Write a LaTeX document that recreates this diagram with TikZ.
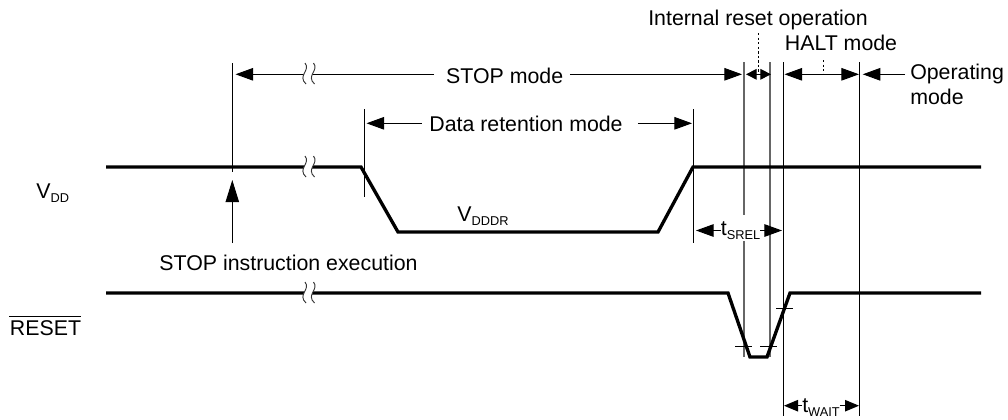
\documentclass[tikz,border=0pt]{standalone}
\usepackage{fontspec}
\setmainfont{Liberation Sans}
\usetikzlibrary{arrows.meta}
\newcommand{\subtxt}[1]{\raisebox{-0.2em}{\fontsize{9.6pt}{10pt}\selectfont #1}}
\tikzset{
  x=0.75pt,y=-0.75pt,
  lbl/.style={inner sep=0pt,font=\fontsize{16pt}{18pt}\selectfont},
  wave/.style={line width=2.5pt,line join=miter},
  guide/.style={line width=0.75pt,black},
  guidegray/.style={line width=1.05pt,black!60},
  dim/.style={line width=0.75pt,-{Triangle[length=13.2pt,width=9.4pt]}},
  dimup/.style={line width=0.75pt,-{Triangle[length=16.5pt,width=10pt]}},
  dimmid/.style={line width=0.75pt,-{Triangle[length=10.5pt,width=8.6pt]}},
  dimsmall/.style={line width=0.75pt,-{Triangle[length=8pt,width=8pt]}},
  tick/.style={line width=0.6pt},
  leader/.style={line width=0.7pt,dash pattern=on 1.8pt off 1.6pt},
  brk/.style={line width=0.7pt,black!80},
}
% break mark centred on (#1,#2)
\newcommand{\breakmark}[2]{%
  \fill[white] (#1-4,#2-10.5) .. controls (#1+2,#2-3) and (#1-12,#2+2) .. (#1-3,#2+10.5) -- (#1+5.5,#2+10.5) .. controls (#1-3.5,#2+2) and (#1+10.5,#2-3) .. (#1+4.5,#2-10.5) -- cycle;
  \draw[brk] (#1-4,#2-10.5) .. controls (#1+2,#2-3) and (#1-12,#2+2) .. (#1-3,#2+10.5);
  \draw[brk] (#1+4.5,#2-10.5) .. controls (#1+10.5,#2-3) and (#1-3.5,#2+2) .. (#1+5.5,#2+10.5);
}
\begin{document}
\begin{tikzpicture}
\useasboundingbox (0,0) rectangle (1008,419);
% guide line ends
\coordinate (g1t) at (232.3,63);  \coordinate (g1b) at (232.3,172);
\coordinate (g2t) at (364.3,109); \coordinate (g2b) at (364.3,197);
\coordinate (g3t) at (693.3,109); \coordinate (g3b) at (693.3,243);
\coordinate (g4t) at (743.8,62);  \coordinate (g4m) at (743.8,215); \coordinate (g4n) at (743.8,241); \coordinate (g4b) at (743.8,357);
\coordinate (g5t) at (770,62);    \coordinate (g5b) at (770,357);
\coordinate (g6t) at (783.5,62);  \coordinate (g6b) at (783.5,416);
\coordinate (g7t) at (859.5,62);  \coordinate (g7b) at (859.5,416);
\draw[guide] (g1t)--(g1b);
\draw[guide] (g2t)--(g2b);
\draw[guide] (g3t)--(g3b);
\draw[guidegray] (g4t)--(g4m);
\draw[guidegray] (g4n)--(g4b);
\draw[guidegray] (g5t)--(g5b);
\draw[guide] (g6t)--(g6b);
\draw[guide] (g7t)--(g7b);
% waveforms
\coordinate (v0) at (106,167); \coordinate (v1) at (361,167); \coordinate (v2) at (398,232);
\coordinate (v3) at (658,232); \coordinate (v4) at (693,167); \coordinate (v5) at (981,167);
\draw[wave] (v0)--(v1)--(v2)--(v3)--(v4)--(v5);
\coordinate (r0) at (106,293); \coordinate (r1) at (728,293); \coordinate (r2) at (750,357);
\coordinate (r3) at (767,357); \coordinate (r4) at (790,293); \coordinate (r5) at (981,293);
\draw[wave] (r0)--(r1)--(r2)--(r3)--(r4)--(r5);
% threshold ticks
\coordinate (t1a) at (735,346); \coordinate (t1b) at (752,346);
\coordinate (t2a) at (760,346); \coordinate (t2b) at (777,346);
\coordinate (t3a) at (776,308); \coordinate (t3b) at (793,308);
\draw[tick] (t1a)--(t1b);
\draw[tick] (t2a)--(t2b);
\draw[tick] (t3a)--(t3b);
% labels
\node[lbl,anchor=base] (stop) at (504.7,83) {STOP mode};
\node[lbl,anchor=base] (data) at (526,131.7) {Data retention mode};
\node[lbl,anchor=base] (inst) at (758,25) {Internal reset operation};
\node[lbl,anchor=base] (halt) at (841,50) {HALT mode};
\node[lbl,anchor=base west] (oper) at (910,79.5) {Operating};
\node[lbl,anchor=base west] (opm) at (910,104) {mode};
\node[lbl,anchor=base] (vdd) at (52.7,198.5) {V\subtxt{DD}};
\node[lbl,anchor=base] (vdddr) at (483,221.7) {V\subtxt{DDDR}};
\node[lbl,anchor=base] (exec) at (288.5,270) {STOP instruction execution};
\node[lbl,anchor=base] (reset) at (45.5,335.5) {RESET};
\coordinate (ol1) at (9.3,316); \coordinate (ol2) at (81,316);
\draw[line width=0.7pt] (ol1) -- (ol2);
\node[lbl,anchor=base] (tsrel) at (740.5,235) {t\subtxt{SREL}};
\node[lbl,anchor=base] (twait) at (821,412) {t\subtxt{WAIT}};
% dimension arrows
\coordinate (a1) at (235.5,74.3); \coordinate (a2) at (742,74.3);
\draw[dim] (stop.west |- a1) ++(-11.7,0) -- (a1);
\draw[dim] (stop.east |- a2) ++(6.3,0) -- (a2);
\coordinate (b1) at (366.5,123.3); \coordinate (b2) at (692,123.3);
\draw[dim] (data.west |- b1) ++(-7.3,0) -- (b1);
\draw[dim] (data.east |- b2) ++(15,0) -- (b2);
\coordinate (c0) at (758.3,74.3); \coordinate (c1) at (746,74.3); \coordinate (c2) at (771,74.3);
\draw[dimsmall] (c0)--(c1);
\draw[dimsmall] (c0)--(c2);
\coordinate (d0) at (823,74.3); \coordinate (d1) at (784.5,74.3); \coordinate (d2) at (859,74.3);
\draw[dim] (d0)--(d1);
\draw[dim] (d0)--(d2);
\coordinate (e1) at (905,74.3); \coordinate (e2) at (862.7,74.3);
\draw[dim] (e1)--(e2);
\coordinate (f1) at (696,230.5); \coordinate (f2) at (782,230.5);
\draw[dim] (tsrel.west |- f1) -- (f1);
\draw[dim] (tsrel.east |- f2) -- (f2);
\coordinate (h1) at (784,405.7); \coordinate (h2) at (859,405.7);
\draw[dimmid] (twait.west |- h1) -- (h1);
\draw[dimmid] (twait.east |- h2) -- (h2);
\coordinate (k0) at (232.3,243); \coordinate (k1) at (232.3,180);
\draw[dimup] (k0)--(k1);
% leaders
\coordinate (l1) at (758.3,33); \coordinate (l2) at (823,60);
\draw[leader] (l1)--(c0);
\draw[leader] (l2)--(d0);
% break marks
\breakmark{309}{73.5}
\breakmark{309}{166.5}
\breakmark{309}{292.5}
\end{tikzpicture}
\end{document}
